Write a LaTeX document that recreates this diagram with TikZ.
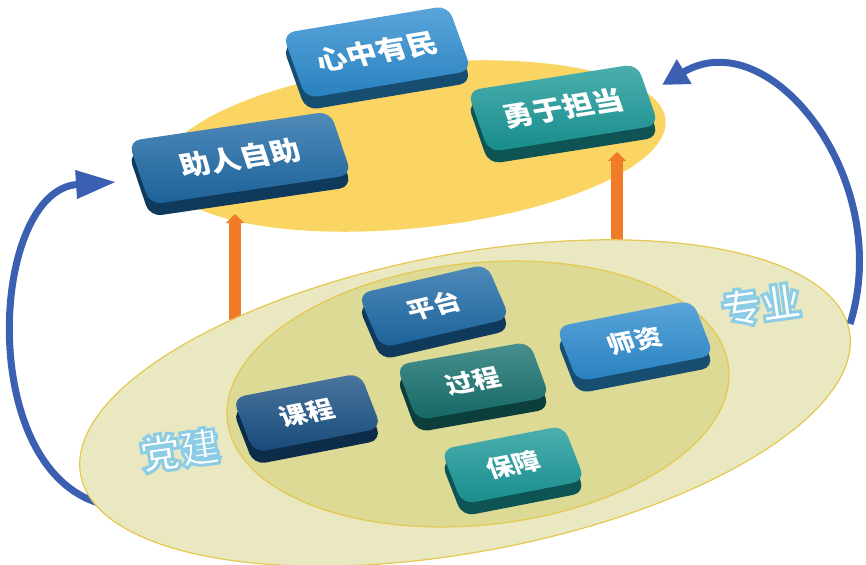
\documentclass[tikz,border=0pt]{standalone}
\usepackage{fontspec}
\newfontfamily\cjk{Noto Sans CJK SC}
\newfontfamily\cjkw{Noto Sans CJK SC}[FakeStretch=1.12]
\usetikzlibrary{shapes.geometric,arrows.meta}
\definecolor{ylw}{RGB}{251,213,100}
\definecolor{outerfill}{RGB}{233,232,193}
\definecolor{innerfill}{RGB}{220,218,148}
\definecolor{rim}{RGB}{228,200,80}
\definecolor{orng}{RGB}{240,124,42}
\definecolor{blu}{RGB}{59,96,178}
\definecolor{kblue}{RGB}{44,140,208}
\definecolor{kdblue}{RGB}{30,106,166}
\definecolor{knavy}{RGB}{24,80,132}
\definecolor{kteal}{RGB}{26,152,152}
\definecolor{kdteal}{RGB}{22,113,110}
\tikzset{
  keyface/.style={rectangle, rounded corners=12pt, inner sep=0pt, text=white},
  keyside/.style={rectangle, rounded corners=12pt, inner sep=0pt},
  orangearr/.style={draw=orng, line width=12pt, -{Triangle[length=9pt,width=18pt]}},
  bluearr/.style={draw=blu, line width=7pt},
  ring/.style={ellipse, inner sep=0pt, draw=rim, line width=1.2pt},
  sidelabel/.style={text=white, font=\cjk\bfseries\fontsize{40}{40}\selectfont, rotate=8}
}
% name, cx, cy, w, h, angle, colour, font size, text
\newcommand\keybox[9]{%
  \begin{scope}[shift={(#2,#3)}, yshift=-12pt, rotate=#6, xslant=-0.18, transform shape]
    \node[keyside, minimum width=#4pt, minimum height=#5pt, fill=#7!55!black] (#1s) at (0,0) {};
  \end{scope}
  \begin{scope}[shift={(#2,#3)}, rotate=#6, xslant=-0.18, transform shape]
    \node[keyface, minimum width=#4pt, minimum height=#5pt, top color=#7!78!white, bottom color=#7!92!black,
      font=\cjkw\bfseries\fontsize{#8}{#8}\selectfont] (#1) at (0,0) {#9};
  \end{scope}}
\newcommand\glowtext[1]{\special{pdf:literal direct 2 Tr 3 w 0.55 0.80 0.90 RG}#1\special{pdf:literal direct 0 Tr 0.4 w 0 0 0 RG}}
\begin{document}
\begin{tikzpicture}[x=1pt,y=-1pt]
\useasboundingbox (0,0) rectangle (866,564);
% top yellow ellipse
\node[ellipse, inner sep=0pt, fill=ylw, minimum width=506pt, minimum height=164pt, rotate=6] (yel) at (414,146) {};
% orange arrows
\coordinate (oL0) at (235,320);
\coordinate (oL1) at (235,214);
\coordinate (oR0) at (617,242);
\coordinate (oR1) at (617,152);
\draw[orangearr] (oL0) -- (oL1);
\draw[orangearr] (oR0) -- (oR1);
% blue curved arrows
\coordinate (bL0) at (102,504);
\coordinate (bL1) at (116,182);
\coordinate (bR0) at (850,324);
\coordinate (bR1) at (662,85);
\draw[bluearr, -{Triangle[length=40pt,width=27pt]}] (bL0) .. controls (-25,470) and (-10,190) .. (bL1);
\draw[bluearr, -{Triangle[length=26pt,width=27pt]}] (bR0) .. controls (895,180) and (770,20) .. (bR1);
% top keys
\keybox{xzym}{377}{52}{168}{68}{9.5}{kblue}{27}{心中有民}
\keybox{zrzz}{240}{158}{204}{66}{8.4}{kdblue}{27}{助人自助}
\keybox{yydd}{563}{108}{172}{64}{9}{kteal}{27}{勇于担当}
% lower ellipses
\node[ring, fill=outerfill, minimum width=782pt, minimum height=298pt, rotate=10.6] (outer) at (465,403) {};
\node[ring, fill=innerfill, minimum width=504pt, minimum height=262pt, rotate=6] (inner) at (478,394) {};
% lower keys
\keybox{pt}{434}{306}{132}{58}{13}{kdblue}{24}{平台}
\keybox{zs}{635}{341}{139}{58}{11}{kblue}{24}{师资}
\keybox{gc}{473}{381}{135}{58}{10}{kdteal}{24}{过程}
\keybox{kc}{307}{413}{130}{58}{11}{knavy}{24}{课程}
\keybox{bz}{513}{465}{125}{58}{11}{kteal}{24}{保障}
% side labels
\node[sidelabel] (dj) at (180,450) {\glowtext{党建}};
\node[sidelabel] (zy) at (761,305) {\glowtext{专业}};
\end{tikzpicture}
\end{document}
